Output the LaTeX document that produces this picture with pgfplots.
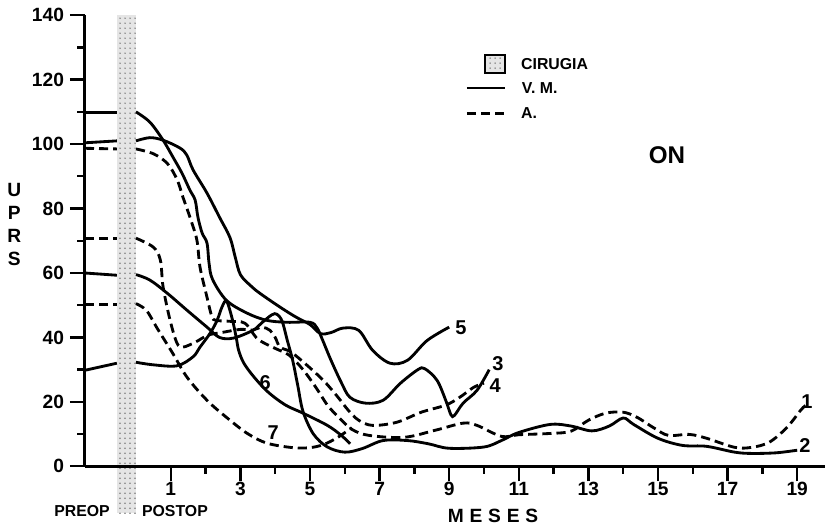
\documentclass[border=0pt]{standalone}
\usepackage{fontspec}
\setmainfont{Liberation Sans}
\usepackage{pgfplots}
\pgfplotsset{compat=1.18}
\usetikzlibrary{patterns}

% postoperative curves (months, UPRS)
\pgfplotstableread{
x y
0 110
0.4 106.8
0.78 101.2
1.06 96
1.32 91
1.55 85.7
1.7 82.6
1.78 77.3
1.9 72.4
2.04 69.3
2.1 63
2.2 58
2.6 51.5
3.2 47.5
3.76 45.3
4.34 44.7
5.0 44.7
5.2 43
5.35 39.5
5.6 33
5.9 26
6.15 21.4
6.6 19.6
7.1 20.5
7.6 25.8
8.1 30
8.3 30.3
8.65 26.7
8.9 20.5
9.05 16
9.15 15.8
9.4 19.6
9.8 23.6
10.15 30
}\curvethree
\pgfplotstableread{
x y
0 101
0.4 102
0.78 101.2
1.26 98.8
1.46 96.6
1.64 92
2.04 84.8
2.4 77.3
2.7 71
2.85 65
3.0 59.5
3.3 56
3.56 53.7
4.14 49.4
4.6 46.3
5.0 44
5.3 41.2
5.6 41.5
5.95 42.9
6.4 42.2
6.8 36
7.3 32
7.8 32.9
8.36 39
9.0 43.2
}\curvefive
\pgfplotstableread{
x y
0 59.5
0.4 57.8
0.9 53.7
1.47 48.4
2.04 43.2
2.4 40
2.8 39.8
3.36 42.2
3.6 44.4
3.9 47
4.05 47.2
4.2 45
4.35 39
4.5 33
4.65 25
4.8 17
5.1 10
5.5 6
6.0 4.4
6.5 5.5
7.1 8
7.8 8
8.4 7
9.0 5.6
10 6
10.5 8
11 10.5
11.9 13
12.5 12.5
13.1 11
13.6 12.5
14 15
14.3 13
15 8.7
15.7 6.5
16.4 6.2
17.2 4.4
17.7 4
18.4 4.2
19 5
}\curvetwo
\pgfplotstableread{
x y
0 32.3
0.5 31.5
1.18 31.2
1.64 34
1.84 37
2.13 41.3
2.33 45.3
2.47 49.4
2.6 51.3
2.76 46
2.88 40
2.95 36
3.1 32
3.4 27.6
3.8 23
4.3 19
4.8 16.5
5.5 12.7
5.9 9.6
6.15 7
}\curvesix
\pgfplotstableread{
x y
0 50.5
0.3 48.4
0.6 43
1.06 35
1.47 27.6
2.04 20.5
2.6 15.2
3.2 10.2
3.76 7.2
4.5 5.8
5.0 5.8
5.4 6.8
5.8 9
6.2 12
}\curveseven
\pgfplotstableread{
x y
0 98.5
0.5 97
0.9 94
1.18 89
1.35 83.5
1.55 77.3
1.75 70.2
1.84 61.8
2.04 52.5
2.18 46.5
2.3 45.3
2.7 45
3.13 44.4
3.5 39.5
4.0 36.6
4.4 34.5
4.8 30
5.2 24
5.5 19
5.8 15.5
6.2 11.5
6.7 9.6
7.7 9
8.6 11.2
9.4 13.4
9.8 12.7
10.5 9.3
11 9.8
11.9 10.2
12.5 10.9
13 14.3
13.5 16.5
14 16.8
14.4 15.2
14.9 11.8
15.3 9.6
15.9 9.9
16.4 8.7
17.2 5.9
17.7 5.9
18.2 7.5
18.7 12
19.1 17.4
19.25 19
}\curveone
\pgfplotstableread{
x y
0 70.8
0.5 68
0.7 64
0.78 55.6
0.98 45.3
1.18 38.2
1.35 37
1.7 38.5
2.07 40.7
2.5 41.6
3.0 42.5
3.36 42.3
3.62 43.2
3.85 42.2
4.0 40
4.14 37
4.45 35.5
4.9 31.5
5.4 26.5
5.8 21.5
6.1 17.4
6.4 14.3
6.8 12.7
7.5 13.7
8.2 16.8
8.9 19
9.3 21.4
9.7 24.5
10.0 25.8
}\curvefour

\begin{document}
\begin{tikzpicture}[font=\bfseries]
\begin{axis}[
  width=444pt, height=270.6pt, scale only axis,
  xmin=-1.47, xmax=19.8, ymin=0, ymax=140,
  axis lines=left, axis line style={-, line width=1.7pt},
  clip=false, axis on top,
  xtick={1,3,...,19}, minor xtick={2,4,...,18},
  ytick={0,20,...,140}, minor ytick={10,30,...,130},
  tick align=outside, major tick length=9pt, minor tick length=4.5pt,
  every tick/.style={line width=1.4pt, black},
  ticklabel style={font=\fontsize{11.5}{13}\selectfont\bfseries},
  xticklabel style={inner sep=1pt, text height=8.4pt, text depth=0pt, yshift=1pt},
  /pgf/number format/assume math mode=true,
  solid line/.style={line width=1.7pt, black, smooth, tension=0.55},
  dash line/.style={line width=1.7pt, black, smooth, tension=0.55,
                    dash pattern=on 5.5pt off 3pt},
]
% page frame
\path (axis cs:-3.908,-18.32) rectangle (axis cs:19.943,144.72);

% surgery band
\fill[black!10] (axis cs:-0.55,-14.6) rectangle (axis cs:0,140);
\fill[pattern=dots, pattern color=black!50] (axis cs:-0.55,-14.6) rectangle (axis cs:0,140);

% preop levels
\addplot[solid line] coordinates {(-1.47,109.8) (-0.55,109.8)};
\addplot[solid line] coordinates {(-1.47,100.4) (-0.55,101)};
\addplot[dash line] coordinates {(-1.47,98.7) (-0.55,98.5)};
\addplot[dash line] coordinates {(-1.47,70.8) (-0.55,70.8)};
\addplot[solid line] coordinates {(-1.47,60) (-0.55,59.3)};
\addplot[dash line] coordinates {(-1.47,50.3) (-0.55,50.3)};
\addplot[solid line] coordinates {(-1.47,29.8) (-0.55,32)};

% postop
\addplot[solid line] table {\curvethree};
\addplot[solid line] table {\curvefive};
\addplot[solid line] table {\curvetwo};
\addplot[solid line] table {\curvesix};
\addplot[dash line] table {\curveseven};
\addplot[dash line] table {\curveone};
\addplot[dash line] table {\curvefour};

% curve numbers
\begin{scope}[font=\fontsize{12}{14}\selectfont\bfseries]
\node at (axis cs:9.34,42.9) {5};
\node at (axis cs:10.4,31.9) {3};
\node at (axis cs:10.32,25.0) {4};
\node at (axis cs:3.71,26.1) {6};
\node at (axis cs:3.94,10.6) {7};
\node at (axis cs:19.28,20.2) {1};
\node at (axis cs:19.22,6.5) {2};
\end{scope}

% legend
\fill[black!10] (axis cs:10.03,122.0) rectangle (axis cs:10.6,127.6);
\fill[pattern=dots, pattern color=black!50] (axis cs:10.03,122.0) rectangle (axis cs:10.6,127.6);
\draw[line width=1.3pt] (axis cs:10.03,122.0) rectangle (axis cs:10.6,127.6);
\draw[line width=1.7pt] (axis cs:9.51,117.4) -- (axis cs:10.6,117.4);
\draw[line width=1.7pt, dash pattern=on 5.5pt off 3pt] (axis cs:9.51,109.6) -- (axis cs:10.6,109.6);
\begin{scope}[font=\fontsize{9.5}{11}\selectfont\bfseries]
\node[anchor=west] at (axis cs:10.9,124.8) {CIRUGIA};
\node[anchor=west] at (axis cs:10.92,117.4) {V. M.};
\node[anchor=west] at (axis cs:10.9,109.6) {A.};
\node[inner sep=1pt] at (axis cs:-1.55,-13.9) {PREOP};
\node[inner sep=1pt] at (axis cs:1.12,-13.9) {POSTOP};
\end{scope}
\node[font=\fontsize{14.5}{16}\selectfont\bfseries] at (axis cs:15.26,96.6) {ON};

% axis titles
\node[font=\fontsize{11.5}{13}\selectfont\bfseries] at (axis cs:10.26,-15.4)
  {M\hspace{3.5pt}E\hspace{3.5pt}S\hspace{3.5pt}E\hspace{3.5pt}S};
\node[align=center, inner sep=0pt, font=\fontsize{11.5}{13.8}\selectfont\bfseries]
  at (axis cs:-3.5,75.2) {U\\P\\R\\S};
\end{axis}
\end{tikzpicture}
\end{document}
